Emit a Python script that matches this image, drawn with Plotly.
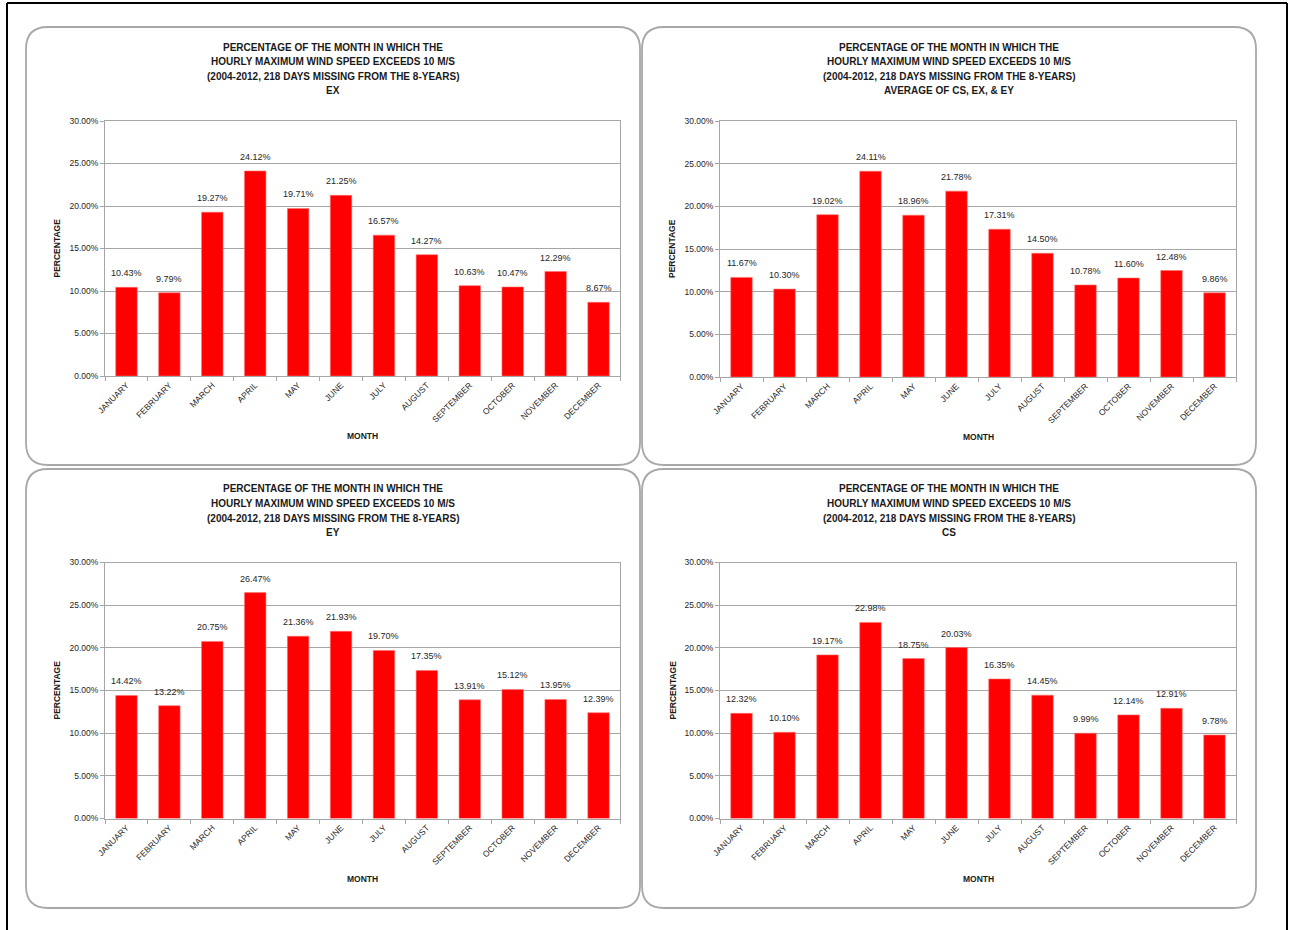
import plotly.graph_objects as go

W, H = 1289, 930

months = ["JANUARY", "FEBRUARY", "MARCH", "APRIL", "MAY", "JUNE", "JULY",
          "AUGUST", "SEPTEMBER", "OCTOBER", "NOVEMBER", "DECEMBER"]

ex_values = [10.43, 9.79, 19.27, 24.12, 19.71, 21.25, 16.57, 14.27, 10.63, 10.47, 12.29, 8.67]
avg_values = [11.67, 10.30, 19.02, 24.11, 18.96, 21.78, 17.31, 14.50, 10.78, 11.60, 12.48, 9.86]
ey_values = [14.42, 13.22, 20.75, 26.47, 21.36, 21.93, 19.70, 17.35, 13.91, 15.12, 13.95, 12.39]
cs_values = [12.32, 10.10, 19.17, 22.98, 18.75, 20.03, 16.35, 14.45, 9.99, 12.14, 12.91, 9.78]

title_common = ["PERCENTAGE OF THE MONTH IN WHICH THE",
                "HOURLY MAXIMUM WIND SPEED EXCEEDS 10 M/S",
                "(2004-2012, 218 DAYS MISSING FROM THE 8-YEARS)"]
subtitles = ["EX", "AVERAGE OF CS, EX, & EY", "EY", "CS"]
y_ticks = [0, 5, 10, 15, 20, 25, 30]
y_ticktext = ["0.00%", "5.00%", "10.00%", "15.00%", "20.00%", "25.00%", "30.00%"]
y_title = "PERCENTAGE"
x_title = "MONTH"

FONT = "Liberation Sans, Arial, sans-serif"
TXT = "#262626"
GRID = "#a6a6a6"

panels = [
    ((26, 27, 640, 465), (105, 121, 620, 376)),
    ((642, 27, 1256, 465), (720, 121, 1236, 377)),
    ((26, 469, 640, 908), (105, 562.5, 620, 818.5)),
    ((642, 469, 1256, 908), (720, 562.5, 1236, 818.5)),
]
series = [ex_values, avg_values, ey_values, cs_values]

def fx(px):
    return px / W

def fy(py):
    return 1 - py / H

fig = go.Figure()
shapes = []
annotations = []

def rounded_path(x0, y0, x1, y1, r):
    pts = []
    pts.append(f"M {fx(x0 + r)},{fy(y0)}")
    pts.append(f"L {fx(x1 - r)},{fy(y0)}")
    pts.append(f"Q {fx(x1)},{fy(y0)} {fx(x1)},{fy(y0 + r)}")
    pts.append(f"L {fx(x1)},{fy(y1 - r)}")
    pts.append(f"Q {fx(x1)},{fy(y1)} {fx(x1 - r)},{fy(y1)}")
    pts.append(f"L {fx(x0 + r)},{fy(y1)}")
    pts.append(f"Q {fx(x0)},{fy(y1)} {fx(x0)},{fy(y1 - r)}")
    pts.append(f"L {fx(x0)},{fy(y0 + r)}")
    pts.append(f"Q {fx(x0)},{fy(y0)} {fx(x0 + r)},{fy(y0)}")
    pts.append("Z")
    return " ".join(pts)

for i, ((bx0, by0, bx1, by1), (px0, py0, px1, py1)) in enumerate(panels):
    n = i + 1
    xa = "x" if n == 1 else f"x{n}"
    ya = "y" if n == 1 else f"y{n}"
    vals = series[i]
    fig.add_trace(go.Bar(
        x=months, y=vals, xaxis=xa, yaxis=ya,
        marker=dict(color="#ff0000", line=dict(width=0.6, color="#ff7070")),
        showlegend=False, hoverinfo="x+y",
    ))
    for m, v in zip(months, vals):
        annotations.append(dict(
            x=m, y=v, xref=xa, yref=ya, text=f"{v:.2f}%", showarrow=False,
            yanchor="middle", yshift=14,
            font=dict(family=FONT, size=9, color=TXT),
        ))
    axis_x = dict(
        domain=[fx(px0), fx(px1)], anchor=ya, type="category",
        showgrid=False, showline=True, linecolor=GRID, linewidth=1, mirror=True,
        ticks="outside", ticklen=4, tickcolor=GRID, tickson="boundaries",
        tickangle=-45, tickfont=dict(family=FONT, size=8.5, color=TXT),
        fixedrange=True, automargin=False,
    )
    axis_y = dict(
        domain=[fy(py1), fy(py0)], anchor=xa, range=[0, 30],
        tickvals=y_ticks, ticktext=y_ticktext,
        showgrid=True, gridcolor=GRID, gridwidth=1,
        showline=True, linecolor=GRID, linewidth=1, mirror=True,
        ticks="outside", ticklen=4, tickcolor=GRID,
        tickfont=dict(family=FONT, size=8.5, color=TXT), zeroline=False,
        fixedrange=True, automargin=False,
    )
    fig.layout[("xaxis" if n == 1 else f"xaxis{n}")] = axis_x
    fig.layout[("yaxis" if n == 1 else f"yaxis{n}")] = axis_y

    # rounded panel border
    shapes.append(dict(type="path", xref="paper", yref="paper",
                       path=rounded_path(bx0, by0, bx1, by1, 22),
                       line=dict(color="#a8a8a8", width=1.8), layer="below"))
    # title lines
    cx = (bx0 + bx1) / 2
    lines = title_common + [subtitles[i]]
    for k, t in enumerate(lines):
        annotations.append(dict(
            x=fx(cx), y=fy(by0 + 20 + 14.6 * k), xref="paper", yref="paper",
            text=f"<b>{t}</b>", showarrow=False, xanchor="center", yanchor="middle",
            font=dict(family=FONT, size=10, color="#1a1a1a"),
        ))
    # axis titles
    annotations.append(dict(
        x=fx(bx0 + 30), y=fy((py0 + py1) / 2), xref="paper", yref="paper",
        text=f"<b>{y_title}</b>", showarrow=False, textangle=-90,
        xanchor="center", yanchor="middle",
        font=dict(family=FONT, size=8.5, color="#1a1a1a"),
    ))
    annotations.append(dict(
        x=fx((px0 + px1) / 2), y=fy(py1 + 60), xref="paper", yref="paper",
        text=f"<b>{x_title}</b>", showarrow=False,
        xanchor="center", yanchor="middle",
        font=dict(family=FONT, size=8.5, color="#1a1a1a"),
    ))

# outer black frame (bottom edge lies below the visible page)
for (x0, y0, x1, y1) in [(7, 3, 1287, 3), (7, 3, 7, 930), (1287, 3, 1287, 930)]:
    shapes.append(dict(type="line", xref="paper", yref="paper",
                       x0=fx(x0), y0=fy(y0), x1=fx(x1), y1=fy(y1),
                       line=dict(color="black", width=2)))

fig.update_layout(
    width=W, height=H, margin=dict(l=0, r=0, t=0, b=0, autoexpand=False),
    paper_bgcolor="white", plot_bgcolor="white",
    bargap=0.5, shapes=shapes, annotations=annotations,
    font=dict(family=FONT, color=TXT),
)

fig.write_html("out.html")
